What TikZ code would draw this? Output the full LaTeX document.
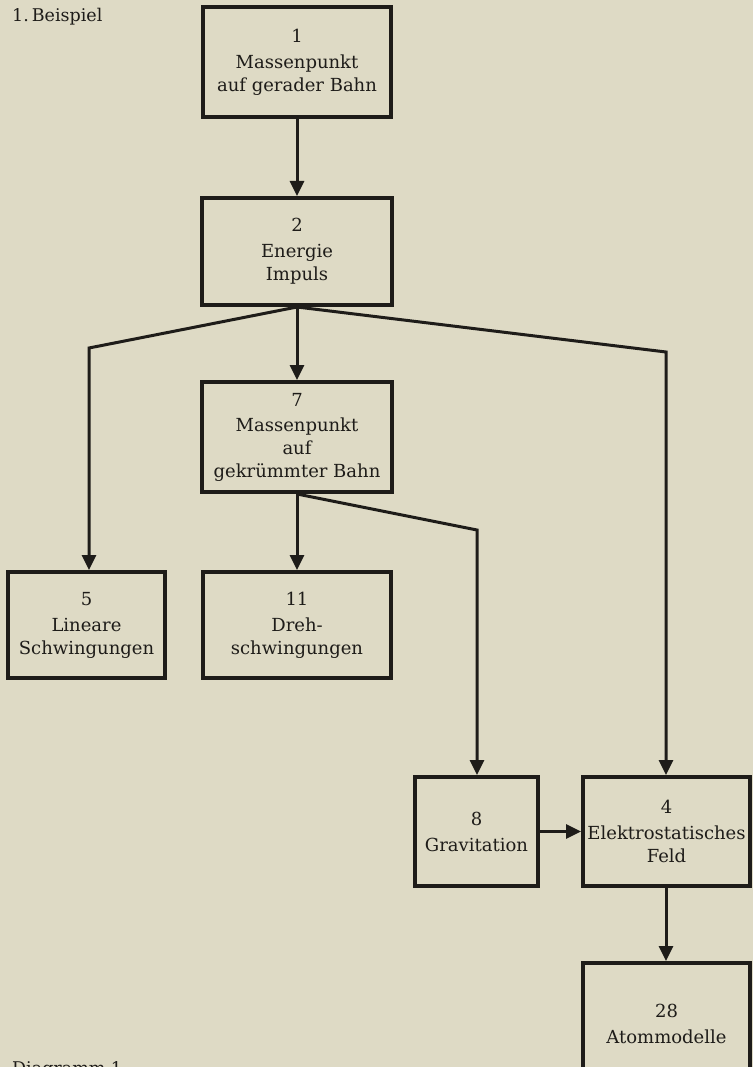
\documentclass[tikz,border=0pt]{standalone}
\usepackage{fontspec}
\setmainfont{DejaVu Serif}
\usetikzlibrary{arrows.meta}
\definecolor{paper}{RGB}{222,218,197}
\definecolor{ink}{RGB}{30,28,25}
\begin{document}
\begin{tikzpicture}[x=1pt,y=-1pt,
  box/.style={draw=ink,line width=4pt,rectangle,align=center,inner sep=0pt,
    text=ink,font=\fontsize{18}{23}\selectfont},
  arr/.style={draw=ink,line width=3pt,line join=miter,
    -{Triangle[width=14pt,length=15pt]}},
  caption/.style={anchor=base west,inner sep=0pt,text=ink,font=\fontsize{17.5}{20}\selectfont}]
\fill[paper] (0,0) rectangle (753,1067);
\useasboundingbox (0,0) rectangle (753,1067);

\node[caption] (title) at (12,22) {1.\,Beispiel};
\node[caption] (diag) at (12,1074) {Diagramm 1};

\node[box,minimum width=188pt,minimum height=110pt] (b1) at (297,62)
  {1\\[3pt]Massenpunkt\\auf gerader Bahn};
\node[box,minimum width=190pt,minimum height=107pt] (b2) at (297,251.5)
  {2\\[3pt]Energie\\Impuls};
\node[box,minimum width=190pt,minimum height=110pt] (b7) at (297,437)
  {7\\[2pt]Massenpunkt\\auf\\gekrümmter Bahn};
\node[box,minimum width=157pt,minimum height=106pt] (b5) at (86.5,625)
  {5\\[3pt]Lineare\\Schwingungen};
\node[box,minimum width=188pt,minimum height=106pt] (b11) at (297,625)
  {11\\[3pt]Dreh-\\schwingungen};
\node[box,minimum width=123pt,minimum height=109pt] (b8) at (476.5,831.5)
  {8\\[3pt]Gravitation};
\node[box,minimum width=167pt,minimum height=109pt] (b4) at (666.5,831.5)
  {4\\[3pt]Elektrostatisches\\Feld};
\node[box,minimum width=167pt,minimum height=122pt] (b28) at (666.5,1024)
  {28\\[3pt]Atommodelle};

\coordinate (k5) at (89,348);
\coordinate (k4) at (666,352);
\coordinate (k8) at (477,530);

\draw[arr] (b1.south) -- (b2.north);
\draw[arr] (b2.south) -- (b7.north);
\draw[arr] (b2.south) -- (k5) -- (k5 |- b5.north);
\draw[arr] (b2.south) -- (k4) -- (k4 |- b4.north);
\draw[arr] (b7.south) -- (b11.north);
\draw[arr] (b7.south) -- (k8) -- (k8 |- b8.north);
\draw[arr] (b8.east) -- (b4.west);
\draw[arr] (b4.south -| k4) -- (k4 |- b28.north);
\end{tikzpicture}
\end{document}
